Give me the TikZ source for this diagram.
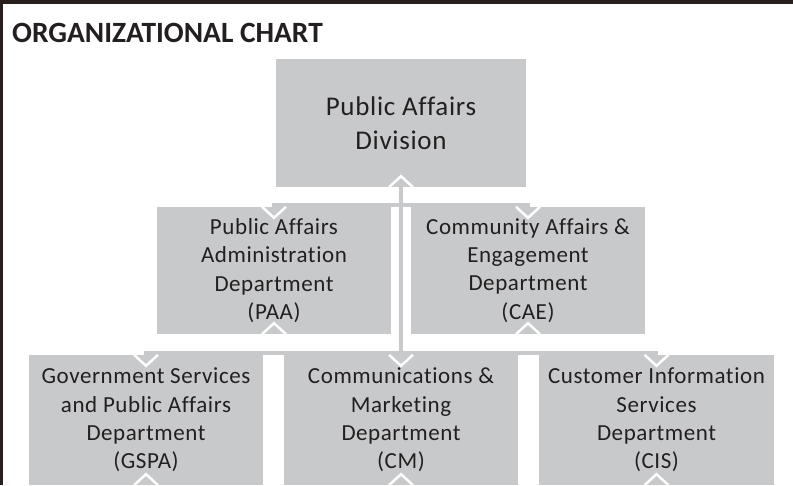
\documentclass[tikz,border=0pt]{standalone}
\usepackage{fontspec}
\setmainfont{Carlito}[Ligatures=NoCommon, LetterSpace=2.5]
\newfontfamily\titlefont{Carlito}[Ligatures=NoCommon]
\definecolor{boxgray}{RGB}{200,201,203}
\definecolor{ink}{RGB}{35,31,32}
\definecolor{framecol}{RGB}{40,30,28}
\newcommand\upchev[1]{\draw[chev] ([xshift=-12pt]#1.south) -- ([yshift=11pt]#1.south) -- ([xshift=12pt]#1.south);}
\newcommand\downchev[1]{\draw[chev] ([xshift=-12pt]#1.north) -- ([yshift=-11pt]#1.north) -- ([xshift=12pt]#1.north);}
\begin{document}
\begin{tikzpicture}[x=1pt,y=-1pt,
  orgbox/.style={fill=boxgray, draw=none, inner sep=0pt, minimum width=234pt, minimum height=128pt, text=ink, align=center, font=\fontsize{23}{28.3}\selectfont},
  conn/.style={draw=boxgray, line width=3.5pt},
  chev/.style={draw=white, line width=2.5pt, line join=miter}]
\useasboundingbox (0,0) rectangle (793,485);
\fill[white] (0,0) rectangle (793,485);
\fill[framecol] (0,0) rectangle (793,4);
\fill[framecol] (0,0) rectangle (3,485);
\node[anchor=base west, text=ink, inner sep=0pt, font=\titlefont\fontsize{29.4}{35}\selectfont\bfseries] (title) at (12,42) {ORGANIZATIONAL CHART};
\node[orgbox, minimum width=250pt, font=\fontsize{27}{34}\selectfont] (div) at (401,123) {Public Affairs\\Division};
\node[orgbox, minimum height=127pt] (paa) at (274,270.5) {Public Affairs\\Administration\\Department\\(PAA)};
\node[orgbox, minimum height=127pt] (cae) at (528,270.5) {Community Affairs \&\\Engagement\\Department\\(CAE)};
\node[orgbox, minimum height=130pt] (gspa) at (146,420) {Government Services\\and Public Affairs\\Department\\(GSPA)};
\node[orgbox, minimum height=130pt] (cm) at (401,420) {Communications \&\\Marketing\\Department\\(CM)};
\node[orgbox, minimum height=130pt, minimum width=235pt] (cis) at (656.5,420) {Customer Information\\Services\\Department\\(CIS)};
\coordinate (bar1) at (401,205);
\coordinate (bar2) at (401,353);
\draw[conn] (div.south) -- (cm.north);
\draw[conn] (paa.north) -- (paa.north |- bar1) -- (cae.north |- bar1) -- (cae.north);
\draw[conn] (gspa.north) -- (gspa.north |- bar2) -- (cis.north |- bar2) -- (cis.north);
\upchev{div}
\upchev{paa}\upchev{cae}
\upchev{gspa}\upchev{cm}\upchev{cis}
\downchev{paa}\downchev{cae}
\downchev{gspa}\downchev{cm}\downchev{cis}
\end{tikzpicture}
\end{document}
